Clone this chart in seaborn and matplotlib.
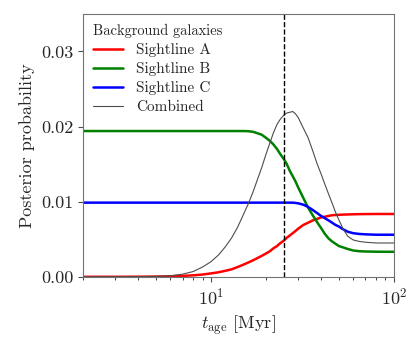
import numpy as np
import pandas as pd
import matplotlib
matplotlib.use("Agg")
import matplotlib.pyplot as plt
import seaborn as sns

# age grid [Myr] and posterior values
t_age = [2, 3, 4, 5, 6, 7, 8, 9, 10, 11, 12, 13, 14, 15, 16, 17, 18, 19, 20,
         21, 22, 23, 24, 25, 26, 27, 28, 29, 30, 32, 34, 36, 38, 40, 42, 44,
         46, 48, 50, 53, 56, 60, 65, 70, 80, 90, 100]

sightline_a = [0, 0, 0.00001, 0.00003, 0.00006, 0.00012, 0.0002, 0.0003, 0.00045,
               0.0006, 0.0008, 0.001, 0.0013, 0.0016, 0.0019, 0.0022, 0.0025,
               0.0028, 0.0031, 0.0034, 0.0038, 0.0041, 0.0045, 0.0048, 0.0052,
               0.0055, 0.0058, 0.0061, 0.0064, 0.0069, 0.0072, 0.0075, 0.0077,
               0.0079, 0.0080, 0.0081, 0.0082, 0.00822, 0.00825, 0.00828,
               0.0083, 0.00832, 0.00834, 0.00835, 0.00836, 0.00836, 0.00836]
sightline_b = [0.0194] * 14 + [
               0.01938, 0.0193, 0.0191, 0.0189, 0.0185, 0.0181, 0.0176, 0.0170,
               0.0163, 0.0157, 0.0150, 0.0141, 0.0134, 0.0127, 0.0119, 0.0105,
               0.0092, 0.0082, 0.0073, 0.0065, 0.0057, 0.0051, 0.0047, 0.0044,
               0.0041, 0.0039, 0.0037, 0.0035, 0.0034, 0.00337, 0.00334,
               0.00333, 0.00333]
sightline_c = [0.00987] * 27 + [
               0.00983, 0.00978, 0.0096, 0.0093, 0.0089, 0.0085, 0.0081, 0.0078,
               0.0075, 0.0072, 0.0069, 0.0067, 0.0063, 0.0060, 0.0058, 0.0057,
               0.00565, 0.0056, 0.0056, 0.0056]
combined = [0, 0, 0.00002, 0.00006, 0.00014, 0.00035, 0.0007, 0.0013, 0.0020,
            0.0029, 0.0040, 0.0052, 0.0066, 0.0082, 0.0097, 0.0113, 0.0130,
            0.0146, 0.0163, 0.0178, 0.0192, 0.0203, 0.0210, 0.0215, 0.0218,
            0.0219, 0.0220, 0.0217, 0.0212, 0.0198, 0.0185, 0.0168, 0.0151,
            0.0137, 0.0123, 0.0110, 0.0098, 0.0086, 0.0076, 0.0063, 0.0054,
            0.0049, 0.0047, 0.0046, 0.0045, 0.0045, 0.0045]

t_marker = 25

sns.set_style("ticks")
plt.rcParams["font.family"] = "serif"
plt.rcParams["font.serif"] = ["cmr10", "DejaVu Serif"]
plt.rcParams["mathtext.fontset"] = "cm"
plt.rcParams["axes.formatter.use_mathtext"] = True

fig, ax = plt.subplots(figsize=(4.15, 3.46), dpi=100)
fig.subplots_adjust(left=0.2, right=0.949, top=0.96, bottom=0.2)

sns.lineplot(x=t_age, y=sightline_a, color="red", lw=1.8, label="Sightline A", ax=ax)
sns.lineplot(x=t_age, y=sightline_b, color="green", lw=1.8, label="Sightline B", ax=ax)
sns.lineplot(x=t_age, y=sightline_c, color="blue", lw=1.8, label="Sightline C", ax=ax)
sns.lineplot(x=t_age, y=combined, color="0.3", lw=0.8, label="Combined", ax=ax)
ax.axvline(t_marker, color="black", ls="--", lw=1)

ax.set_xscale("log")
ax.set_xlim(2, 100)
ax.set_ylim(0, 0.035)
ax.set_yticks([0, 0.01, 0.02, 0.03])
ax.set_yticklabels(["0.00", "0.01", "0.02", "0.03"])
ax.tick_params(labelsize=13, color="0.3")
ax.set_xlabel(r"$t_{\rm age}$ [Myr]", fontsize=13)
ax.set_ylabel("Posterior probability", fontsize=13)
for s in ax.spines.values():
    s.set_color("0.45")

leg = ax.legend(title="Background galaxies", loc="upper left", frameon=False,
                fontsize=11, title_fontsize=10.4, alignment="left",
                borderaxespad=0.25, labelspacing=0.33)

fig.savefig("out.png", dpi=100)
